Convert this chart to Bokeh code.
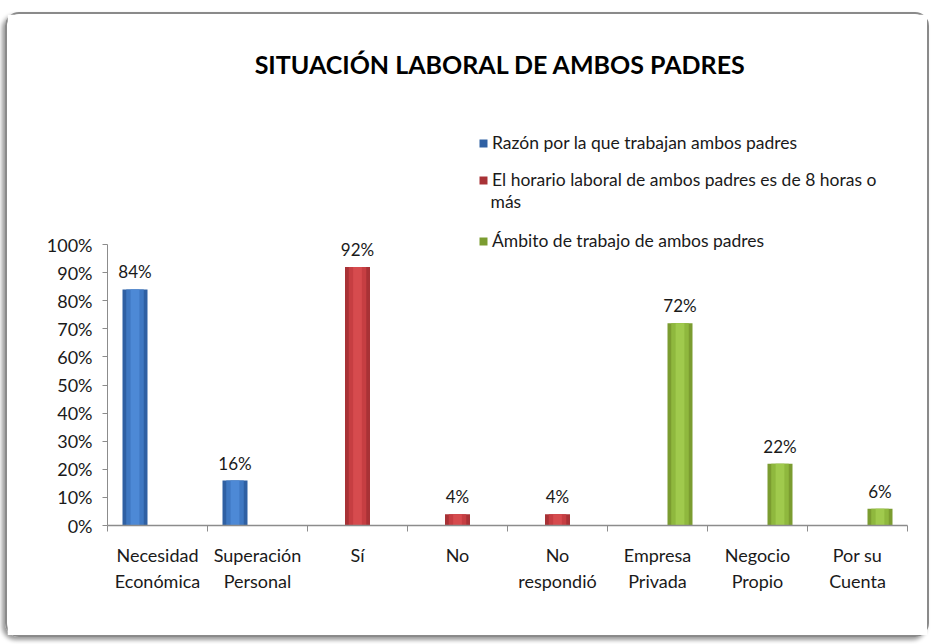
from bokeh.plotting import figure
from bokeh.models import (Range1d, FixedTicker, Label, LabelSet, ColumnDataSource,
                          Legend, LegendItem, NumeralTickFormatter)
from bokeh.core.properties import value
from bokeh.embed import file_html
from bokeh.resources import INLINE

title = "SITUACIÓN LABORAL DE AMBOS PADRES"
categories = ["Necesidad\nEconómica", "Superación\nPersonal", "Sí", "No",
              "No\nrespondió", "Empresa\nPrivada", "Negocio\nPropio", "Por su\nCuenta"]
series_names = ["Razón por la que trabajan ambos padres",
                "El horario laboral de ambos padres es de 8 horas o más",
                "Ámbito de trabajo de ambos padres"]
series_of_cat = [0, 0, 1, 1, 1, 2, 2, 2]
values = [0.84, 0.16, 0.92, 0.04, 0.04, 0.72, 0.22, 0.06]
value_labels = ["84%", "16%", "92%", "4%", "4%", "72%", "22%", "6%"]
y_ticks = [i / 10 for i in range(11)]

edge_colors = ["#2f60a3", "#a83236", "#7b9c30"]
mid_colors = ["#3f78c2", "#c63e42", "#8fb83e"]
light_colors = ["#4d89d6", "#d64b4e", "#a0ca4d"]

FONT = "Lato"
W, H = 924, 625
TOP, BOTTOM, LEFT, RIGHT = 20, 114, 100, 24
plot_h = H - TOP - BOTTOM
unit_px = 281.0  # pixels per 100%
y_top = plot_h / unit_px

p = figure(width=W, height=H, output_backend="svg", toolbar_location=None,
           x_range=Range1d(0, len(categories)), y_range=Range1d(0, y_top))
p.min_border_left = LEFT
p.min_border_right = RIGHT
p.min_border_top = TOP
p.min_border_bottom = BOTTOM
p.outline_line_color = None
p.background_fill_color = "white"
p.border_fill_color = "white"
p.xgrid.visible = False
p.ygrid.visible = False
p.styles = {"border": "2px solid #8a8a8a", "border-radius": "14px",
            "box-shadow": "-3px 3px 4px #9a9a9a", "margin": "12px 0 0 5px"}

offsets = [-0.225, 0.0, 0.225]
bar_w = 0.25
xs = [i + 0.5 + offsets[s] for i, s in enumerate(series_of_cat)]

renderers = []
for s in range(3):
    idx = [i for i, ss in enumerate(series_of_cat) if ss == s]
    src = ColumnDataSource(dict(x=[xs[i] for i in idx], top=[values[i] for i in idx]))
    r = p.vbar(x="x", top="top", width=bar_w, source=src,
               fill_color=edge_colors[s], line_color=None)
    p.vbar(x="x", top="top", width=bar_w * 0.7, source=src,
           fill_color=mid_colors[s], line_color=None)
    p.vbar(x="x", top="top", width=bar_w * 0.35, source=src,
           fill_color=light_colors[s], line_color=None)
    renderers.append(r)

lab_src = ColumnDataSource(dict(x=xs, y=values, t=value_labels))
p.add_layout(LabelSet(x="x", y="y", text="t", source=lab_src, y_offset=7,
                      text_align="center", text_baseline="bottom",
                      text_font=value(FONT), text_font_size="17px", text_color="#1a1a1a"))

# axes
p.yaxis.bounds = (0, 1)
p.yaxis.ticker = FixedTicker(ticks=y_ticks, minor_ticks=[])
p.yaxis.formatter = NumeralTickFormatter(format="0%")
p.yaxis.major_label_text_font = FONT
p.yaxis.major_label_text_font_size = "18px"
p.yaxis.major_label_text_color = "#1a1a1a"
p.yaxis.axis_line_color = "#8c8c8c"
p.yaxis.major_tick_line_color = "#8c8c8c"
p.yaxis.major_tick_out = 5
p.yaxis.major_tick_in = 0
p.yaxis.major_label_standoff = 10

centers = [i + 0.5 for i in range(len(categories))]
p.xaxis.ticker = FixedTicker(ticks=centers, minor_ticks=list(range(len(categories) + 1)))
p.xaxis.major_label_overrides = {c: lab for c, lab in zip(centers, categories)}
p.xaxis.major_tick_line_color = None
p.xaxis.major_tick_out = 0
p.xaxis.major_tick_in = 0
p.xaxis.minor_tick_line_color = "#8c8c8c"
p.xaxis.minor_tick_out = 6
p.xaxis.minor_tick_in = 0
p.xaxis.axis_line_color = "#8c8c8c"
p.xaxis.axis_line_width = 1.5
p.xaxis.major_label_text_font = FONT
p.xaxis.major_label_text_font_size = "18px"
p.xaxis.major_label_text_color = "#1a1a1a"
p.xaxis.major_label_standoff = 12

# title
p.add_layout(Label(x=3.93, y=1.644, text=title, text_align="center", text_baseline="middle",
                   text_font=FONT, text_font_style="bold", text_font_size="25px",
                   text_color="#000000"))

# legend (three single-item legends stacked)
legend_y = [372, 335, 274]
legend_texts = ["Razón por la que trabajan ambos padres",
                "El horario laboral de ambos padres es de 8 horas o",
                "Ámbito de trabajo de ambos padres"]
for s in range(3):
    lg = Legend(items=[LegendItem(label=legend_texts[s], renderers=[renderers[s]])],
                location=(371, legend_y[s]), padding=0, margin=0,
                border_line_color=None, background_fill_alpha=0,
                glyph_width=10, glyph_height=10, label_standoff=4,
                label_text_font=FONT, label_text_font_size="17.5px",
                label_text_color="#1a1a1a", label_height=20)
    p.add_layout(lg, "center")
p.add_layout(Label(x=3.83, y=1.153, text="más", text_align="left", text_baseline="middle",
                   text_font=FONT, text_font_size="17.5px", text_color="#1a1a1a"))

open("out.html", "w").write(file_html(p, INLINE))
